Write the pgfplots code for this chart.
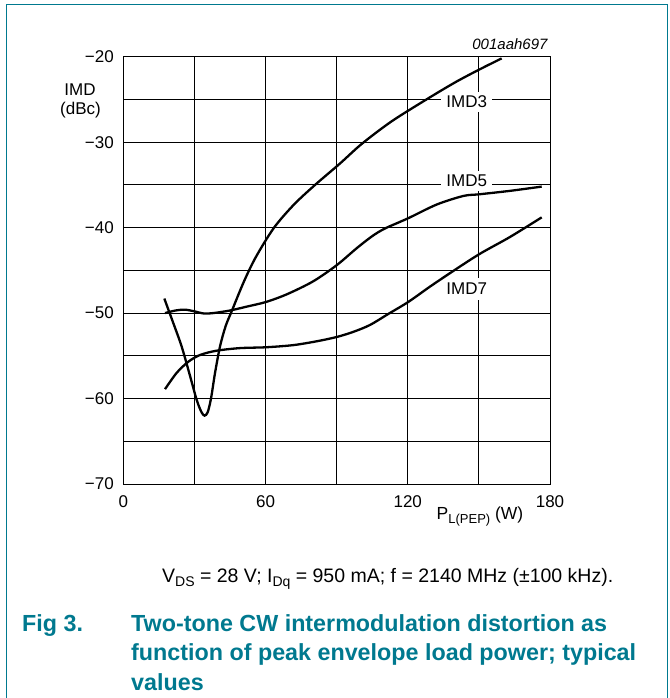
\documentclass[border=0pt]{standalone}
\usepackage{fontspec}
\setmainfont{Liberation Sans}
\usepackage{pgfplots}
\pgfplotsset{compat=1.18}
\definecolor{nxpteal}{RGB}{0,121,143}
\newcommand\fs[1]{\fontsize{#1}{#1}\selectfont}

\begin{document}
\begin{tikzpicture}[x=1pt,y=1pt]
\useasboundingbox (0,0) rectangle (669,698);
% outer frame (open at the bottom)
\draw[nxpteal, line width=1.3pt] (6.3,0) -- (6.3,693.7) -- (667.3,693.7) -- (667.3,0);

\begin{axis}[
    at={(123.3pt,214pt)}, anchor=south west,
    scale only axis,
    width=426.7pt, height=427.3pt,
    xmin=0, xmax=180, ymin=-70, ymax=-20,
    xtick={0,30,...,180},
    xticklabels={0,,60,,120,,180},
    ytick={-70,-65,...,-20},
    yticklabels={−70,,−60,,−50,,−40,,−30,,−20},
    grid=major,
    major grid style={black, line width=0.8pt},
    axis line style={black, line width=0.9pt},
    major tick length=0pt,
    tick label style={font=\fs{17}},
    xticklabel style={yshift=-8pt},
    yticklabel style={xshift=-6pt},
    clip=false,
]
% curve labels, on white boxes over the grid
\node[fill=white, inner xsep=5pt, inner ysep=4pt, font=\fs{17}] at (axis cs:144.9,-25.3) {IMD3};
\node[fill=white, inner xsep=5pt, inner ysep=4pt, font=\fs{17}] at (axis cs:144.9,-34.5) {IMD5};
\node[fill=white, inner xsep=5pt, inner ysep=5pt, font=\fs{17}] at (axis cs:144.9,-47.2) {IMD7};

% IMD3
\addplot[black, line width=2.3pt, smooth, tension=0.5] coordinates {
(17.3,-48.3) (21.0,-51.1) (24.6,-53.9) (28.0,-57.2) (31.0,-60.2)
(33.0,-61.6) (34.3,-62.0) (35.6,-61.6) (37.0,-60.0) (38.7,-57.0)
(40.8,-53.9) (43.2,-51.5) (45.7,-49.8) (50.9,-46.3) (56.0,-43.4)
(63.6,-40.0) (72.0,-37.3) (80.9,-35.0) (91.4,-32.5) (100.6,-30.2)
(113.0,-27.6) (127.3,-25.1) (140.0,-23.0) (150.2,-21.5) (159.6,-20.2)
};
% IMD5
\addplot[black, line width=2.3pt, smooth, tension=0.5] coordinates {
(17.6,-50.0) (22.0,-49.7) (26.0,-49.6) (30.0,-49.8) (34.0,-50.05)
(38.0,-50.0) (45.0,-49.7) (52.0,-49.25) (60.2,-48.7) (69.0,-47.8)
(80.0,-46.3) (90.0,-44.4) (98.5,-42.4) (105.0,-41.0) (110.4,-40.1)
(120.2,-38.9) (132.2,-37.3) (143.4,-36.3) (150.2,-36.1) (163.1,-35.7)
(176.5,-35.2)
};
% IMD7
\addplot[black, line width=2.3pt, smooth, tension=0.5] coordinates {
(17.6,-58.9) (22.5,-57.0) (27.4,-55.7) (32.4,-54.9) (39.4,-54.4)
(49.2,-54.1) (60.2,-54.0) (71.7,-53.75) (81.6,-53.3) (90.0,-52.8)
(97.0,-52.2) (104.0,-51.4) (111.8,-50.1) (120.2,-48.7) (129.4,-46.9)
(138.5,-45.2) (150.2,-43.1) (163.1,-41.1) (176.5,-38.8)
};
\end{axis}

% axis titles
\node[font=\fs{17}] at (80,608) {IMD};
\node[font=\fs{17}] at (80.5,588) {(dBc)};
\node[font=\fs{17.5}, anchor=base] at (480,178) {P\raisebox{-0.35ex}{\fs{13}L(PEP)} (W)};
\node[font=\itshape\fs{15}, anchor=base east] at (551,648) {001aah697};

% caption
\node[font=\fs{19.5}, anchor=base west, inner sep=0pt] at (162,115)
  {V\raisebox{-0.35ex}{\fs{14}DS} = 28 V; I\raisebox{-0.35ex}{\fs{14}Dq} = 950 mA; f = 2140 MHz (±100 kHz).};
\begin{scope}[every node/.style={font=\bfseries\fs{23.3}, text=nxpteal, anchor=base west, inner sep=0pt}]
\node at (22,66) {Fig 3.};
\node at (131,66) {Two-tone CW intermodulation distortion as};
\node at (131,37) {function of peak envelope load power; typical};
\node at (131,8) {values};
\end{scope}
\end{tikzpicture}
\end{document}
